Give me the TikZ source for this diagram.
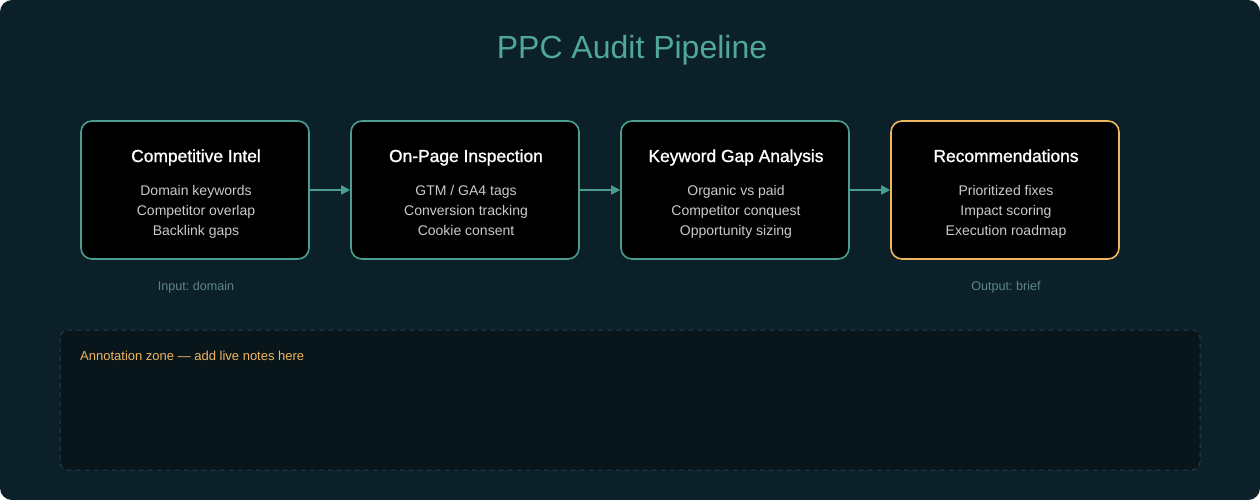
\documentclass[tikz,border=0pt]{standalone}
\usepackage{fontspec}
\setmainfont{Liberation Sans}
\newfontfamily\headfont[FakeBold=1.2]{Liberation Sans}
\usetikzlibrary{arrows.meta}
\frenchspacing
\definecolor{bgdark}{HTML}{0B2029}
\definecolor{zonefill}{HTML}{08151A}
\definecolor{zoneline}{HTML}{24404A}
\definecolor{tealline}{HTML}{4A9D8F}
\definecolor{titleteal}{HTML}{4FA898}
\definecolor{amber}{HTML}{F0B65E}
\definecolor{itemgrey}{HTML}{C8CCCC}
\definecolor{capgrey}{HTML}{5E8489}
\begin{document}
\begin{tikzpicture}[x=1pt, y=-1pt,
    stage/.style={draw=tealline, line width=1.6pt, fill=black, rounded corners=11pt,
        minimum width=228pt, minimum height=138pt, inner sep=0pt},
    head/.style={text=white, font=\headfont\fontsize{17.4}{20}\selectfont, anchor=base, inner sep=0pt},
    items/.style={text=itemgrey, font=\fontsize{14}{20}\selectfont, align=center, anchor=base, inner sep=0pt},
    caption/.style={text=capgrey, font=\fontsize{12.6}{14}\selectfont, anchor=base, inner sep=0pt},
    flow/.style={draw=tealline, line width=1.6pt, -{Triangle[length=9pt, width=9pt]}}]
    \useasboundingbox (0,0) rectangle (1260,500);
    \fill[white] (0,0) rectangle (1260,500);
    \fill[bgdark, rounded corners=12pt] (0,0) rectangle (1260,500);
    \node[text=titleteal, font=\fontsize{32}{36}\selectfont, anchor=base, inner sep=0pt] (title) at (632,59) {PPC Audit Pipeline};
    % stages
    \node[stage] (intel) at (195,190) {};
    \node[head] (intelhead) at (196,162) {Competitive Intel};
    \node[items] (intelitems) at (196,235) {Domain keywords\\Competitor overlap\\Backlink gaps};
    \node[stage] (onpage) at (465,190) {};
    \node[head] (onpagehead) at (466,162) {On-Page Inspection};
    \node[items] (onpageitems) at (466,235) {GTM / GA4 tags\\Conversion tracking\\Cookie consent};
    \node[stage] (gap) at (735,190) {};
    \node[head] (gaphead) at (736,162) {Keyword Gap Analysis};
    \node[items] (gapitems) at (736,235) {Organic vs paid\\Competitor conquest\\Opportunity sizing};
    \node[stage, draw=amber] (recs) at (1005,190) {};
    \node[head] (recshead) at (1006,162) {Recommendations};
    \node[items] (recsitems) at (1006,235) {Prioritized fixes\\Impact scoring\\Execution roadmap};
    % connectors
    \draw[flow] (intel.east) -- (onpage.west);
    \draw[flow] (onpage.east) -- (gap.west);
    \draw[flow] (gap.east) -- (recs.west);
    \node[caption] (input) at (196,290) {Input: domain};
    \node[caption] (output) at (1006,290) {Output: brief};
    % annotation zone
    \draw[zoneline, fill=zonefill, dashed, dash pattern=on 5pt off 4pt, line width=1pt, rounded corners=8pt]
        (60,330) rectangle (1200,470);
    \node[text=amber, font=\fontsize{13}{15}\selectfont, anchor=base west, inner sep=0pt] (note) at (80,360) {Annotation zone — add live notes here};
\end{tikzpicture}
\end{document}
